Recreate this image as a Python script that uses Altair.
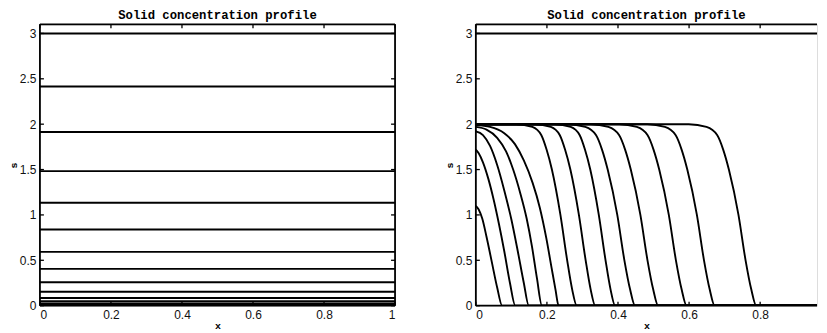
import altair as alt
import pandas as pd

# ---------------- data ----------------
x_ticks_left = [0, 0.2, 0.4, 0.6, 0.8, 1]
x_ticks_right = [0, 0.2, 0.4, 0.6, 0.8]
y_ticks = [0, 0.5, 1, 1.5, 2, 2.5, 3]

# left panel: flat profiles (s levels)
left_levels = [3.0, 2.415, 1.914, 1.483, 1.134, 0.839, 0.593, 0.405,
               0.258, 0.153, 0.085, 0.048, 0.025, 0.01, 0.0]

# right panel: initial profile and moving fronts (x, s)
r_init_x = [0, 1]
r_init_s = [3.0, 3.0]

c1_x = [0, 0.008, 0.018, 0.03, 0.045, 0.06, 0.074, 1]
c1_s = [1.10, 1.06, 0.96, 0.76, 0.48, 0.20, 0, 0]
c2_x = [0, 0.008, 0.02, 0.035, 0.05, 0.065, 0.08, 0.096, 0.111, 1]
c2_s = [1.72, 1.68, 1.58, 1.40, 1.17, 0.90, 0.60, 0.25, 0, 0]
c3_x = [0, 0.02, 0.04, 0.06, 0.08, 0.10, 0.118, 0.135, 0.149, 1]
c3_s = [1.92, 1.88, 1.76, 1.55, 1.27, 0.95, 0.60, 0.25, 0, 0]
c4_x = [0, 0.03, 0.06, 0.085, 0.105, 0.125, 0.143, 0.158, 0.172, 0.186, 1]
c4_s = [1.97, 1.94, 1.85, 1.70, 1.50, 1.24, 0.96, 0.65, 0.30, 0, 0]
c5_x = [0, 0.04, 0.08, 0.11, 0.135, 0.16, 0.18, 0.198, 0.213, 0.224, 0.233, 1]
c5_s = [1.99, 1.97, 1.90, 1.78, 1.60, 1.35, 1.08, 0.75, 0.42, 0.18, 0, 0]
c6_x = [0, 0.114, 0.159, 0.184, 0.199, 0.214, 0.238, 0.257, 0.271, 0.284, 1]
c6_s = [2.0, 2.0, 1.97, 1.88, 1.72, 1.50, 1.0, 0.5, 0.18, 0, 0]
c7_x = [0, 0.166, 0.211, 0.236, 0.251, 0.266, 0.290, 0.309, 0.323, 0.336, 1]
c7_s = [2.0, 2.0, 1.97, 1.88, 1.72, 1.50, 1.0, 0.5, 0.18, 0, 0]
c8_x = [0, 0.222, 0.267, 0.292, 0.307, 0.322, 0.346, 0.365, 0.379, 0.392, 1]
c8_s = [2.0, 2.0, 1.97, 1.88, 1.72, 1.50, 1.0, 0.5, 0.18, 0, 0]
c9_x = [0, 0.258, 0.308, 0.338, 0.355, 0.371, 0.398, 0.418, 0.434, 0.448, 1]
c9_s = [2.0, 2.0, 1.97, 1.88, 1.72, 1.50, 1.0, 0.5, 0.18, 0, 0]
c10_x = [0, 0.323, 0.373, 0.403, 0.420, 0.436, 0.463, 0.483, 0.499, 0.513, 1]
c10_s = [2.0, 2.0, 1.97, 1.88, 1.72, 1.50, 1.0, 0.5, 0.18, 0, 0]
c11_x = [0, 0.403, 0.453, 0.483, 0.500, 0.516, 0.543, 0.563, 0.579, 0.593, 1]
c11_s = [2.0, 2.0, 1.97, 1.88, 1.72, 1.50, 1.0, 0.5, 0.18, 0, 0]
c12_x = [0, 0.482, 0.532, 0.562, 0.579, 0.595, 0.622, 0.642, 0.658, 0.672, 1]
c12_s = [2.0, 2.0, 1.97, 1.88, 1.72, 1.50, 1.0, 0.5, 0.18, 0, 0]
c13_x = [0, 0.599, 0.649, 0.679, 0.696, 0.712, 0.739, 0.759, 0.775, 0.789, 1]
c13_s = [2.0, 2.0, 1.97, 1.88, 1.72, 1.50, 1.0, 0.5, 0.18, 0, 0]

TITLE = "Solid concentration profile"

# ---------------- tables ----------------
left_rows = []
for i, lv in enumerate(left_levels):
    for order, xv in enumerate([0, 1]):
        left_rows.append({"x": xv, "s": lv, "curve": i, "o": order})
left_df = pd.DataFrame(left_rows)

right_curves = [(r_init_x, r_init_s), (c1_x, c1_s), (c2_x, c2_s), (c3_x, c3_s),
                (c4_x, c4_s), (c5_x, c5_s), (c6_x, c6_s), (c7_x, c7_s),
                (c8_x, c8_s), (c9_x, c9_s), (c10_x, c10_s), (c11_x, c11_s),
                (c12_x, c12_s), (c13_x, c13_s)]
right_rows = []
for i, (xs, ss) in enumerate(right_curves):
    for order, (xv, sv) in enumerate(zip(xs, ss)):
        right_rows.append({"x": xv, "s": sv, "curve": i, "o": order})
right_df = pd.DataFrame(right_rows)

H = 282
TL = 4
FRAME_W = 1.8
one = pd.DataFrame({"k": [0]})

LBL = dict(labelFont="Liberation Sans", labelFontSize=12, labelColor="#111111",
           titleFont="Liberation Mono", titleFontWeight="bold", titleFontSize=10,
           titleColor="black", domain=False, ticks=False, tickSize=0, grid=False)

yscale = alt.Scale(domain=[0, 3.1], nice=False, zero=False)
yaxis = alt.Axis(values=y_ticks, format="~g", title="s", labelPadding=4,
                 titlePadding=0, minExtent=21, maxExtent=21, **LBL)


def panel(df, interp, W, xmax, x_ticks, right_edge):
    xscale = alt.Scale(domain=[0, xmax], nice=False, zero=False)
    xaxis = alt.Axis(values=x_ticks, format="~g", title="x", labelPadding=4,
                     titlePadding=0, **LBL)
    lines = alt.Chart(df).mark_line(
        color="black", strokeWidth=1.9, interpolate=interp, clip=True
    ).encode(
        x=alt.X("x:Q", scale=xscale, axis=xaxis),
        y=alt.Y("s:Q", scale=yscale, axis=yaxis),
        detail="curve:N",
        order="o:Q",
    )
    xt_df = pd.DataFrame({"x": x_ticks})
    yt_df = pd.DataFrame({"s": y_ticks})
    tick_top = alt.Chart(xt_df).mark_rule(color="black", strokeWidth=1.3).encode(
        x=alt.X("x:Q", scale=xscale, axis=xaxis), y=alt.value(0), y2=alt.value(TL))
    tick_bot = alt.Chart(xt_df).mark_rule(color="black", strokeWidth=1.3).encode(
        x=alt.X("x:Q", scale=xscale, axis=xaxis), y=alt.value(H), y2=alt.value(H - TL))
    tick_l = alt.Chart(yt_df).mark_rule(color="black", strokeWidth=1.3).encode(
        y=alt.Y("s:Q", scale=yscale, axis=yaxis), x=alt.value(0), x2=alt.value(TL))
    frame_top = alt.Chart(one).mark_rule(color="black", strokeWidth=FRAME_W).encode(
        x=alt.value(0), x2=alt.value(W), y=alt.value(0))
    frame_bot = alt.Chart(one).mark_rule(color="black", strokeWidth=FRAME_W).encode(
        x=alt.value(0), x2=alt.value(W), y=alt.value(H))
    frame_l = alt.Chart(one).mark_rule(color="black", strokeWidth=FRAME_W).encode(
        x=alt.value(0), y=alt.value(0), y2=alt.value(H))
    layers = [lines, tick_top, tick_bot, tick_l, frame_top, frame_bot, frame_l]
    if right_edge:
        tick_r = alt.Chart(yt_df).mark_rule(color="black", strokeWidth=1.3).encode(
            y=alt.Y("s:Q", scale=yscale, axis=yaxis), x=alt.value(W - TL), x2=alt.value(W))
        frame_r = alt.Chart(one).mark_rule(color="black", strokeWidth=FRAME_W).encode(
            x=alt.value(W), y=alt.value(0), y2=alt.value(H))
        layers += [tick_r, frame_r]
    return alt.layer(*layers).properties(
        width=W, height=H,
        title=alt.TitleParams(TITLE, font="Liberation Mono", fontWeight="bold",
                              fontSize=12.3, offset=2, anchor="middle"),
    )


left = panel(left_df, "linear", 356, 1.0, x_ticks_left, True)
# right panel is cut by the picture's edge just past x = 0.96
right = panel(right_df, "monotone", 342, 0.96, x_ticks_right, False)

chart = alt.hconcat(left, right, spacing=47).properties(padding=0).configure_view(
    stroke="transparent"
).configure(background="white")

chart.save("out.html", embed_options={"renderer": "svg", "actions": False})
